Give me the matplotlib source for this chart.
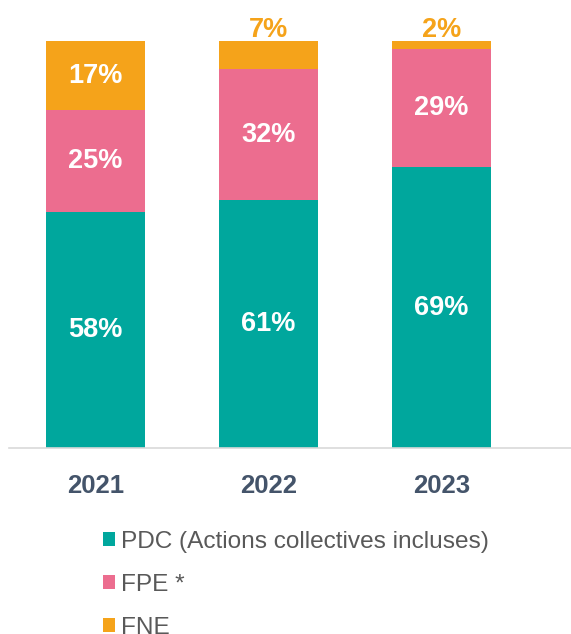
import numpy as np
import matplotlib
matplotlib.use('Agg')
import matplotlib.pyplot as plt
from matplotlib.patches import Patch

plt.rcParams.update({'font.family': ['Liberation Sans', 'DejaVu Sans']})

years = ['2021', '2022', '2023']
pdc = [58, 61, 69]
fpe = [25, 32, 29]
fne = [17, 7, 2]
series_names = ['PDC (Actions collectives incluses)', 'FPE *', 'FNE']
colors = ['#00A79D', '#EC6D8F', '#F5A31A']

fig = plt.figure(figsize=(5.71, 6.34), dpi=100)
ax = fig.add_axes([0.016, 1 - 448 / 634, 0.984, (448 - 41) / 634])

x = np.arange(len(years))
w = 0.57
bottom = np.zeros(len(years))
for vals, col in zip([pdc, fpe, fne], colors):
    vals = np.array(vals, dtype=float)
    ax.bar(x, vals, w, bottom=bottom, color=col, edgecolor='none')
    for xi, b, v in zip(x, bottom, vals):
        if v >= 10:
            ax.text(xi, b + v / 2, f'{int(v)}%', ha='center', va='center',
                    color='white', fontsize=19.5, fontweight='bold')
        else:
            ax.text(xi, b + v + 2.7, f'{int(v)}%', ha='center', va='center',
                    color=col, fontsize=19.5, fontweight='bold')
    bottom += vals

ax.set_xlim(-0.5, 2.75)
ax.set_ylim(0, 100)
for s in ['top', 'right', 'left']:
    ax.spines[s].set_visible(False)
ax.spines['bottom'].set_color('#D9D9D9')
ax.spines['bottom'].set_linewidth(1.2)
ax.set_yticks([])
ax.set_xticks(x)
ax.set_xticklabels(years, fontsize=18.5, fontweight='bold', color='#44546A')
ax.tick_params(axis='x', length=0, pad=19)

handles = [Patch(facecolor=c, edgecolor='none') for c in colors]
fig.legend(handles, series_names, loc='upper left', bbox_to_anchor=(0.18, 0.1625),
           frameon=False, fontsize=17.6, labelcolor='#595959',
           handlelength=0.5, handleheight=0.5, handletextpad=0.25,
           labelspacing=0.86, borderaxespad=0, borderpad=0)

fig.savefig('out.png', dpi=100)
